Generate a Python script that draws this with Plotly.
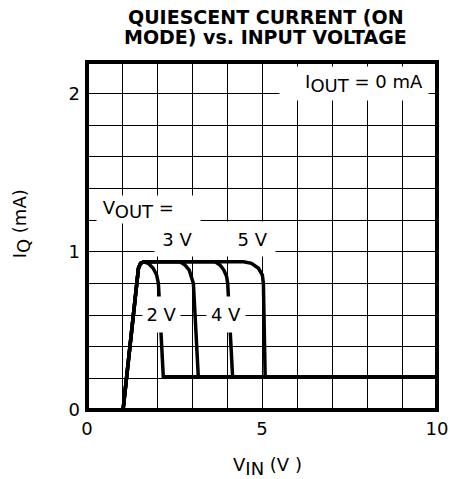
import plotly.graph_objects as go

# ---- data ----
vin_2v = [1.03, 1.47, 1.53, 1.63, 1.75, 1.89, 1.99, 2.04, 2.18, 10.0]
iq_2v = [0.0, 0.896, 0.927, 0.937, 0.927, 0.896, 0.853, 0.80, 0.21, 0.21]

vin_3v = [1.03, 1.47, 1.53, 1.63, 2.66, 2.80, 2.92, 2.99, 3.04, 3.18, 10.0]
iq_3v = [0.0, 0.896, 0.927, 0.937, 0.937, 0.917, 0.885, 0.843, 0.80, 0.21, 0.21]

vin_4v = [1.03, 1.47, 1.53, 1.63, 3.66, 3.80, 3.91, 3.99, 4.02, 4.16, 10.0]
iq_4v = [0.0, 0.896, 0.927, 0.937, 0.937, 0.917, 0.885, 0.843, 0.80, 0.21, 0.21]

vin_5v = [1.03, 1.47, 1.53, 1.63, 4.47, 4.70, 4.90, 5.01, 5.04, 5.09, 10.0]
iq_5v = [0.0, 0.896, 0.927, 0.937, 0.937, 0.927, 0.896, 0.853, 0.80, 0.21, 0.21]

x_ticks = [0, 5, 10]
y_ticks = [0, 1, 2]
x_tick_labels = ["0", "5", "10"]
y_tick_labels = ["0", "1", "2"]

FONT = "DejaVu Sans"
FS = 18
SUB = '<sub><span style="font-size:%dpx">%s</span></sub>'

fig = go.Figure()
for xs, ys, name in [(vin_2v, iq_2v, "2 V"), (vin_3v, iq_3v, "3 V"),
                     (vin_4v, iq_4v, "4 V"), (vin_5v, iq_5v, "5 V")]:
    fig.add_trace(go.Scatter(x=xs, y=ys, mode="lines", name=name,
                             line=dict(color="black", width=3.5),
                             hoverinfo="skip", showlegend=False))

grid = dict(showgrid=True, gridcolor="black", gridwidth=1.3)

fig.update_layout(
    width=450, height=479,
    margin=dict(l=87, r=13, t=62, b=69, autoexpand=False),
    paper_bgcolor="white", plot_bgcolor="white",
    font=dict(family=FONT, size=FS, color="black"),
    showlegend=False,
    xaxis=dict(range=[0, 10], tickmode="array", tickvals=x_ticks,
               ticktext=x_tick_labels, zeroline=False, showline=False,
               ticks="", ticklabelstandoff=6, automargin=False,
               minor=dict(tick0=0, dtick=1, **grid), **grid),
    yaxis=dict(range=[0, 2.2], tickmode="array", tickvals=y_ticks,
               ticktext=y_tick_labels, zeroline=False, showline=False,
               ticks="", ticklabelstandoff=6, automargin=False,
               minor=dict(tick0=0, dtick=0.2, **grid), **grid),
)

# frame
fig.add_shape(type="rect", xref="paper", yref="paper", x0=0, y0=0, x1=1, y1=1,
              line=dict(color="black", width=4), layer="above")

# in-plot labels with white boxes
labels = [
    ("I" + SUB % (FS, "OUT") + " = 0 mA&nbsp;", 7.63, 2.064, 148, 33, "right"),
    ("&nbsp;V" + SUB % (FS, "OUT") + " =", 1.757, 1.27, 103, 27, "left"),
    ("3 V" + "&nbsp;" * 8 + "5 V", 3.66, 1.081, 120, 34, "center"),
    ("2 V", 2.13, 0.604, 37, 35, "center"),
    ("4 V", 3.96, 0.604, 38, 35, "center"),
]
for txt, x, y, w, h, al in labels:
    fig.add_annotation(text=txt, x=x, y=y, xref="x", yref="y", showarrow=False,
                       bgcolor="white", width=w, height=h, borderpad=0,
                       align=al, xanchor="center", yanchor="middle",
                       font=dict(family=FONT, size=FS, color="black"))

# axis titles
fig.add_annotation(text="I" + SUB % (FS, "Q") + " (mA)", xref="paper", yref="paper",
                   x=-0.186, y=0.536, textangle=-90, showarrow=False,
                   xanchor="center", yanchor="middle",
                   font=dict(family=FONT, size=FS, color="black"))
fig.add_annotation(text="V" + SUB % (FS, "IN") + " (V )", xref="paper", yref="paper",
                   x=0.517, y=-0.161, showarrow=False,
                   xanchor="center", yanchor="middle",
                   font=dict(family=FONT, size=FS, color="black"))

# title (two lines)
for txt, y in [("QUIESCENT CURRENT (ON", 1.129), ("MODE) vs. INPUT VOLTAGE", 1.073)]:
    fig.add_annotation(text="<b>%s</b>" % txt, xref="paper", yref="paper",
                       x=0.51, y=y, showarrow=False, xanchor="center", yanchor="middle",
                       font=dict(family=FONT, size=19, color="black"))

fig.write_html("out.html", config={"displayModeBar": False},
               post_script="document.body.style.margin='0';"
                           "document.body.style.overflow='hidden';")
